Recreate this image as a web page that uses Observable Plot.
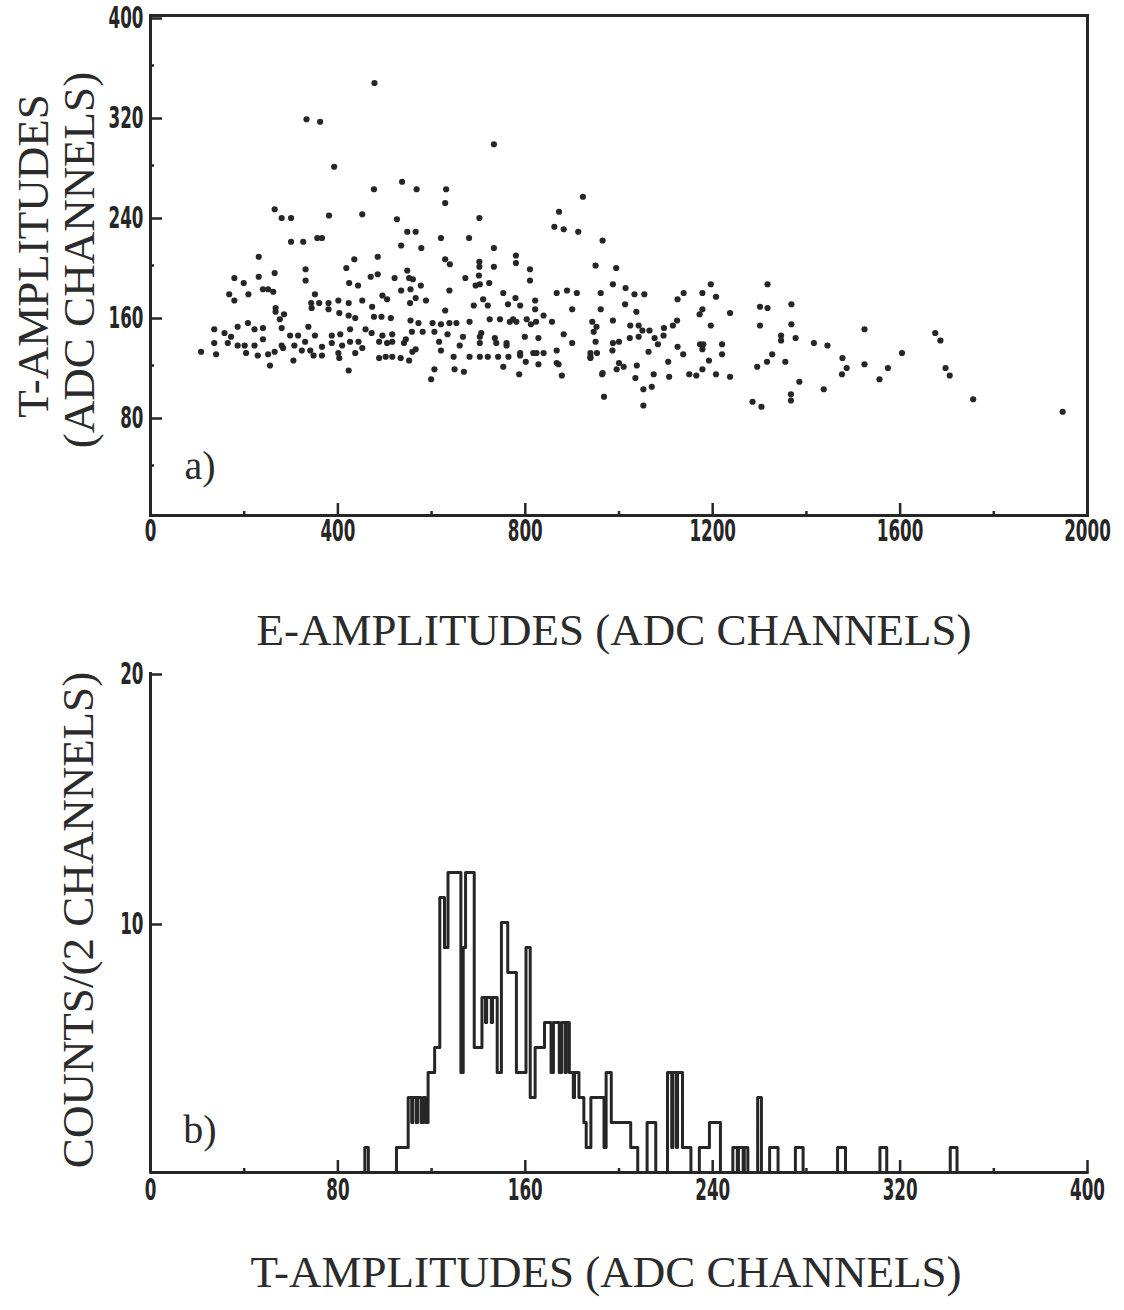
<!DOCTYPE html>
<html><head><meta charset="utf-8">
<script src="https://cdn.jsdelivr.net/npm/d3@7"></script>
<script src="https://cdn.jsdelivr.net/npm/@observablehq/plot@0.6"></script>
<style>
body{margin:0;background:#fff;}
#root{position:relative;width:1124px;height:1310px;overflow:hidden;background:#fff;}
.panel{position:absolute;left:0;}
.title{position:absolute;font-family:"Liberation Serif","DejaVu Serif",serif;font-size:45px;color:#2b2b2b;white-space:nowrap;line-height:1;}
</style></head><body><div id="root"></div><script>
// ---------- Panel a) scatter: E-amplitude vs T-amplitude ----------
const eAmp = [478,333,362,733,392,537,477,568,631,629,923,265,280,300,381,452,526,702,872,862,882,913,300,326,366,356,548,566,620,680,535,578,733,780,780,810,950,231,435,485,418,331,629,639,702,702,733,231,265,470,485,548,552,672,701,810,965,
179,199,168,179,209,240,251,262,331,424,443,521,560,577,638,694,703,723,867,889,910,961,
351,343,360,380,401,423,452,473,495,505,535,555,566,588,554,710,753,779,821,763,821,839,803,812,767,774,789,720,690,629,823,857,900,943,961,952,950,939,953,
267,267,285,276,
344,380,403,423,437,477,493,513,555,572,602,638,653,681,724,746,781,
136,158,172,186,208,222,240,280,298,315,337,351,387,405,426,459,472,495,516,545,558,581,606,620,634,667,703,706,735,760,799,828,882,946,
136,165,186,201,222,240,280,283,307,330,341,366,387,409,426,444,488,505,516,541,566,616,620,660,703,738,760,789,824,839,867,900,939,
108,140,204,229,251,265,305,323,348,366,401,403,437,452,488,502,516,534,552,559,647,681,703,720,742,764,789,817,867,939,
255,423,606,649,669,599,753,787,801,828,871,878,964,968,
994,987,1014,1033,1054,1013,1037,987,1024,1042,1050,1065,1096,1115,1125,1138,1124,1178,1196,1207,1178,1172,1237,1196,1000,1023,1042,1076,1095,1083,987,1063,1125,1137,1173,1180,1178,1220,1220,986,1000,1010,995,1038,965,1105,1074,1035,1107,1150,1165,1178,1192,1207,1237,1052,1070,1052,
1301,1317,1317,1368,1301,1368,1346,1346,1377,1416,1445,1327,1316,1295,1355,1385,1367,1367,1285,1304,1437,1477,1486,1476,1524,1524,1556,1574,1604,1675,1686,1697,1706,1756,1947];
const tAmp = [346,317,315,297,279,267,261,261,261,250,255,245,238,238,240,241,237,238,243,231,229,227,219,219,222,222,227,227,222,222,216,214,214,208,202,197,200,207,205,207,198,197,205,201,203,199,199,191,194,191,193,196,190,190,192,188,220,
190,186,177,172,177,181,181,179,188,186,184,190,189,184,180,184,185,186,178,180,178,178,
177,170,170,170,172,170,172,167,176,173,180,181,174,172,170,173,178,174,172,169,165,160,157,153,155,157,168,168,168,164,155,155,165,155,165,151,139,127,130,
166,163,161,157,
166,165,162,160,158,159,159,158,156,154,154,154,154,155,157,157,155,
149,146,143,151,154,149,150,150,144,144,151,144,144,145,149,149,146,144,145,141,147,147,147,153,145,143,143,146,142,138,143,142,145,147,
138,138,136,136,136,141,136,134,136,139,132,135,138,136,139,139,139,138,139,138,133,139,132,136,138,138,136,130,130,130,132,138,130,
131,129,130,128,129,131,124,132,128,128,130,126,130,134,126,127,127,126,124,131,127,127,127,127,127,127,128,130,122,126,
120,116,117,117,115,109,119,113,123,121,121,112,113,95,
198,185,182,177,177,169,163,156,152,152,148,148,150,152,173,178,156,178,185,175,165,161,162,152,139,142,143,142,144,137,138,131,135,129,137,137,133,137,129,132,122,119,117,120,114,123,113,110,111,113,112,117,124,113,111,101,103,88,
167,166,185,169,152,153,144,140,142,138,136,129,123,119,123,107,97,92,91,87,101,126,118,113,149,121,109,118,130,146,140,118,112,93,83];
const eTicks = [0,400,800,1200,1600,2000];
const eMinor = [200,600,1000,1400,1800];
const tTicks = [80,160,240,320,400];
const tMinor = [40,120,200,280,360];

// ---------- Panel b) histogram of T-amplitudes (2-channel bins) ----------
const histEdge  = [0,91.5,93,105,110,111.5,112,113.5,114,115.5,116.5,117.5,118.5,121.3,123.5,125.5,127,132.5,133.5,134.5,138.2,141.5,143,143.5,145.5,146,148,149.8,152.5,156.2,160.3,162.1,164.2,168.2,171,172,174.5,175.5,177,177.5,178.8,180.5,181,182.9,185,186,188,193.6,194.5,196.7,205,208,212,215.7,220.7,222.5,223,224.5,225,227.1,230.7,234.3,238.6,243.3,248.6,250.5,251,253,253.5,255,259.2,260.8,264.3,267.9,275.3,278.6,293.3,296.7,311.4,314.3,341.4,344.3,400];
const histCount = [0,1,0,1,3,2,3,2,3,2,3,2,4,5,11,9,12,4,9,12,5,7,6,7,6,7,4,10,8,4,9,3,5,6,4,6,4,6,4,6,4,3,4,3,2,1,3,1,4,2,1,0,2,0,4,1,4,1,4,1,0,1,2,0,1,0,1,0,1,0,3,0,1,0,1,0,1,0,1,0,1,0,0];
const tBins = [0,80,160,240,320,400];
const tBinsMinor = [40,120,200,280,360];
const cTicks = [10,20];

const ink = "#262626";
const tickStyle = {
  background: "transparent", color: ink, overflow: "visible",
  fontFamily: '"Liberation Sans Narrow","DejaVu Sans Condensed","DejaVu Sans",sans-serif',
  fontSize: "30px", fontWeight: "bold"
};
const fmt = d => String(d);
const root = document.getElementById("root");

// condense tick labels horizontally to mimic the narrow bold digits
function condense(svg) {
  d3.select(svg).selectAll("g[aria-label$='tick label'] text").each(function () {
    const t = this.getAttribute("transform") || "";
    this.setAttribute("transform", t + " scale(0.62,1)");
  });
}

const points = eAmp.map((e, i) => ({e, t: tAmp[i]}));
const plotA = Plot.plot({
  width: 1124, height: 560,
  marginTop: 15, marginLeft: 150, marginRight: 37, marginBottom: 45,
  style: tickStyle,
  x: {domain: [0, 2000]},
  y: {domain: [0, 400]},
  marks: [
    Plot.axisX({ticks: eTicks, tickSize: -12, tickPadding: 16, strokeWidth: 2.5, tickFormat: fmt, label: null}),
    Plot.axisX({ticks: eMinor, tickSize: -4, strokeWidth: 2.5, tickFormat: () => "", label: null}),
    Plot.axisY({ticks: tTicks, tickSize: -12, tickPadding: 19, strokeWidth: 2.5, tickFormat: fmt, label: null, dy: 3}),
    Plot.axisY({ticks: tMinor, tickSize: -4, strokeWidth: 2.5, tickFormat: () => "", label: null}),
    Plot.frame({stroke: ink, strokeWidth: 3}),
    Plot.dot(points, {x: "e", y: "t", r: 3.1, fill: ink, stroke: null})
  ]
});
condense(plotA);
plotA.classList.add("panel");
plotA.style.top = "0px";
root.appendChild(plotA);

const steps = histEdge.map((x, i) => ({x, c: histCount[i]}));
const plotB = Plot.plot({
  width: 1124, height: 567,
  marginTop: 22, marginLeft: 150, marginRight: 37, marginBottom: 45,
  style: tickStyle,
  x: {domain: [0, 400]},
  y: {domain: [0, 20]},
  marks: [
    Plot.axisX({ticks: tBins, tickSize: -12, tickPadding: 18, strokeWidth: 2.5, tickFormat: fmt, label: null}),
    Plot.axisX({ticks: tBinsMinor, tickSize: -4, strokeWidth: 2.5, tickFormat: () => "", label: null}),
    Plot.axisY({ticks: cTicks, tickSize: -12, tickPadding: 19, strokeWidth: 2.5, tickFormat: fmt, label: null, dy: 2}),
    Plot.ruleX([0], {stroke: ink, strokeWidth: 3}),
    Plot.ruleY([0], {stroke: ink, strokeWidth: 3}),
    Plot.line(steps, {x: "x", y: "c", curve: "step-after", stroke: ink, strokeWidth: 3})
  ]
});
condense(plotB);
plotB.classList.add("panel");
plotB.style.top = "650px";
root.appendChild(plotB);

// ---------- titles and panel labels ----------
function addText(txt, left, top, opts = {}) {
  const d = document.createElement("div");
  d.className = "title";
  d.textContent = txt;
  d.style.left = left + "px";
  d.style.top = top + "px";
  d.style.transform = opts.rotate ? "translate(-50%,-50%) rotate(-90deg)" : "translate(-50%,-50%)";
  if (opts.size) d.style.fontSize = opts.size + "px";
  root.appendChild(d);
}
addText("T-AMPLITUDES", 33, 256, {rotate: true});
addText("(ADC CHANNELS)", 79, 260, {rotate: true});
addText("E-AMPLITUDES (ADC CHANNELS)", 614, 630);
addText("COUNTS/(2 CHANNELS)", 78, 920, {rotate: true});
addText("T-AMPLITUDES (ADC CHANNELS)", 606, 1272);
addText("a)", 200, 466, {size: 40});
addText("b)", 200, 1130, {size: 40});
</script></body></html>
